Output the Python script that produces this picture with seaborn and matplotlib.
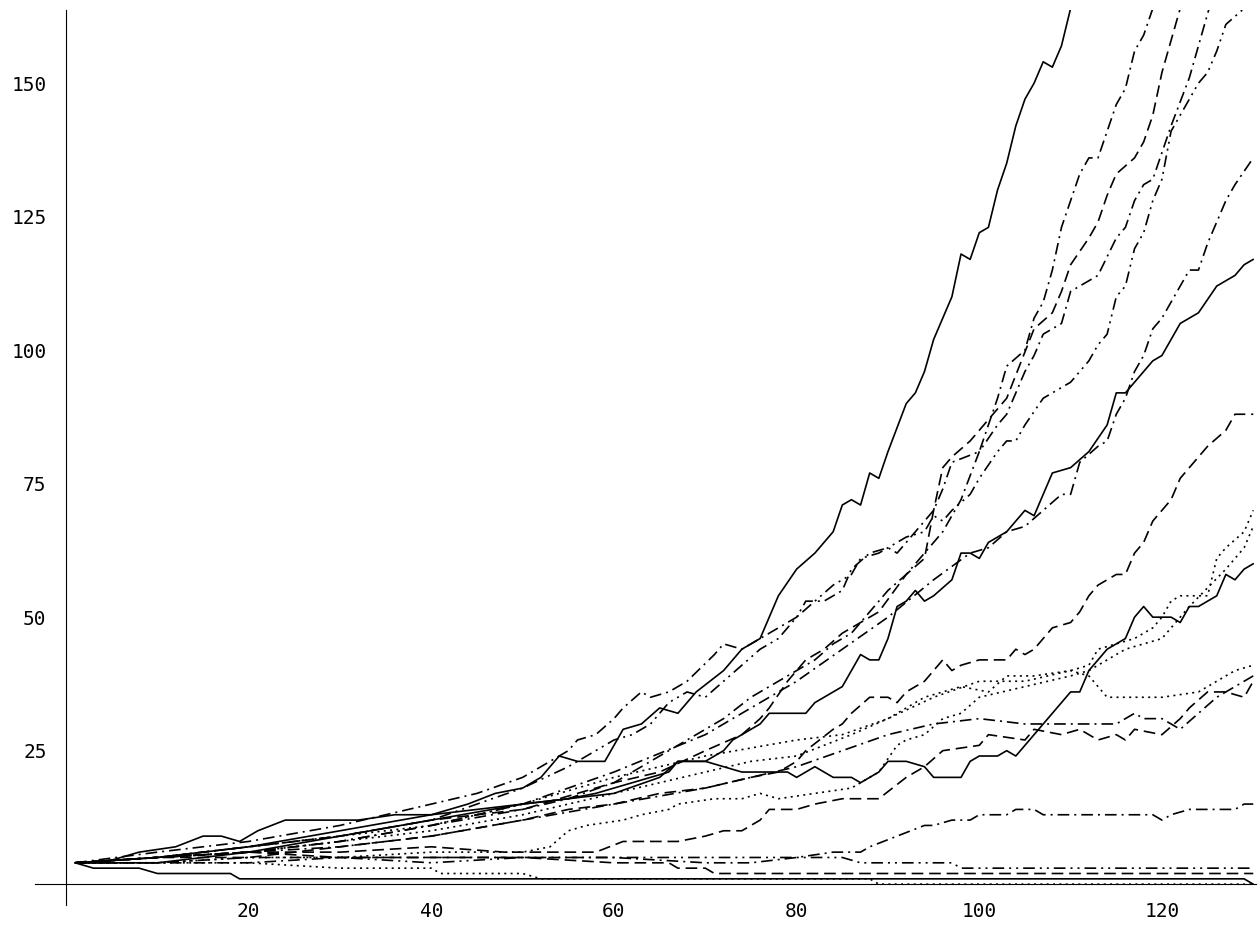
import numpy as np
import pandas as pd
import seaborn as sns
import matplotlib.pyplot as plt
from matplotlib.ticker import FixedLocator, MultipleLocator

# Walk values (x = step, y = value)
steep_x = [1, 4, 8, 12, 15, 17, 19, 21, 24, 32, 36, 40, 44, 47, 50, 52, 54, 56, 59, 60, 61, 63, 65, 67, 69, 72, 74, 76, 78, 80, 82, 84, 85, 86, 87, 88, 89, 90, 92, 93, 94, 95, 96, 97, 98, 99, 100, 101, 102, 103, 104, 105, 106, 107, 108, 109, 110, 112]
steep_y = [4, 4, 6, 7, 9, 9, 8, 10, 12, 12, 13, 13, 15, 17, 18, 20, 24, 23, 23, 26, 29, 30, 33, 32, 36, 40, 44, 46, 54, 59, 62, 66, 71, 72, 71, 77, 76, 81, 90, 92, 96, 102, 106, 110, 118, 117, 122, 123, 130, 135, 142, 147, 150, 154, 153, 157, 164, 178]

dd1_x = [1, 10, 20, 30, 40, 45, 50, 55, 56, 58, 60, 61, 63, 64, 66, 68, 71, 72, 74, 76, 78, 80, 81, 83, 85, 86, 88, 90, 91, 93, 95, 96, 97, 100, 102, 103, 105, 106, 107, 108, 109, 110, 111, 112, 113, 114, 115, 116, 117, 118, 119, 120]
dd1_y = [4, 6, 8, 11, 15, 17, 20, 25, 27, 28, 31, 33, 36, 35, 36, 38, 43, 45, 44, 46, 48, 50, 53, 53, 55, 59, 62, 63, 62, 66, 70, 74, 79, 81, 91, 97, 100, 106, 109, 115, 123, 128, 133, 136, 136, 141, 146, 149, 156, 159, 164, 170]

da1_x = [1, 10, 20, 30, 40, 50, 60, 65, 70, 74, 76, 77, 79, 81, 83, 85, 87, 89, 92, 94, 95, 96, 97, 99, 101, 103, 106, 108, 109, 110, 112, 113, 114, 115, 117, 118, 119, 120, 121, 122, 123]
da1_y = [4, 5, 7, 9, 12, 14, 19, 21, 25, 28, 31, 33, 38, 42, 44, 47, 49, 51, 58, 61, 70, 78, 80, 83, 87, 91, 104, 107, 111, 116, 121, 124, 129, 133, 136, 139, 144, 152, 158, 164, 170]

dd2_x = [1, 10, 20, 30, 40, 50, 55, 60, 65, 70, 72, 75, 78, 80, 82, 84, 86, 88, 90, 92, 94, 96, 98, 100, 102, 103, 105, 106, 107, 109, 110, 112, 113, 115, 116, 117, 118, 119, 120, 121, 123, 124, 125, 126]
dd2_y = [4, 5, 6, 8, 11, 14, 16, 19, 24, 29, 31, 35, 38, 40, 42, 45, 47, 51, 55, 58, 62, 66, 72, 81, 86, 88, 96, 99, 103, 105, 111, 113, 114, 121, 123, 128, 131, 132, 137, 142, 151, 157, 163, 169]

ddd1_x = [1, 10, 20, 30, 40, 45, 50, 55, 58, 60, 62, 64, 66, 68, 70, 72, 74, 76, 78, 80, 82, 84, 86, 87, 89, 90, 92, 94, 95, 96, 97, 99, 100, 102, 103, 104, 105, 107, 108, 110, 111, 112, 113, 114, 115, 116, 117, 118, 119, 120, 121, 122, 124, 125, 126, 127, 129, 130]
ddd1_y = [4, 5, 7, 9, 12, 15, 18, 22, 25, 27, 28, 30, 34, 36, 35, 38, 41, 44, 46, 50, 53, 56, 58, 61, 62, 63, 65, 66, 69, 68, 70, 73, 76, 81, 83, 83, 86, 91, 92, 94, 96, 98, 101, 103, 110, 112, 119, 122, 128, 132, 141, 144, 150, 152, 156, 161, 164, 167]

dd3_x = [1, 10, 20, 30, 40, 50, 60, 70, 75, 80, 85, 90, 95, 99, 101, 103, 105, 107, 109, 110, 111, 113, 114, 115, 116, 117, 118, 119, 120, 121, 122, 123, 124, 125, 126, 127, 128, 130]
dd3_y = [4, 5, 6, 8, 11, 15, 21, 28, 33, 38, 44, 50, 57, 62, 63, 66, 67, 70, 73, 73, 79, 82, 83, 88, 91, 96, 99, 104, 106, 109, 112, 115, 115, 120, 124, 128, 131, 136]

solid2_x = [1, 10, 20, 30, 40, 50, 55, 58, 60, 62, 66, 67, 70, 72, 73, 76, 77, 81, 82, 85, 87, 88, 89, 90, 91, 92, 93, 94, 95, 97, 98, 99, 100, 101, 103, 104, 105, 106, 107, 108, 110, 112, 114, 115, 116, 117, 119, 120, 121, 122, 124, 126, 127, 128, 129, 130]
solid2_y = [4, 5, 7, 10, 13, 15, 16, 17, 18, 19, 21, 23, 23, 25, 27, 30, 32, 32, 34, 37, 43, 42, 42, 46, 52, 53, 55, 53, 54, 57, 62, 62, 61, 64, 66, 68, 70, 69, 73, 77, 78, 81, 86, 92, 92, 94, 98, 99, 102, 105, 107, 112, 113, 114, 116, 117]

da2_x = [1, 10, 20, 30, 40, 50, 55, 60, 65, 70, 75, 78, 80, 81, 84, 85, 86, 88, 90, 91, 92, 93, 94, 95, 96, 97, 98, 100, 103, 104, 105, 106, 108, 110, 111, 112, 113, 115, 116, 117, 118, 119, 120, 121, 122, 123, 125, 127, 128, 130]
da2_y = [4, 5, 5, 7, 9, 12, 14, 15, 17, 18, 20, 21, 23, 25, 29, 30, 32, 35, 35, 34, 36, 37, 38, 40, 42, 40, 41, 42, 42, 44, 43, 44, 48, 49, 51, 54, 56, 58, 58, 62, 64, 68, 70, 72, 76, 78, 82, 85, 88, 88]

dot1_x = [1, 10, 20, 30, 40, 50, 60, 70, 80, 85, 90, 95, 100, 105, 110, 112, 113, 115, 117, 119, 120, 121, 122, 125, 126, 127, 129, 130]
dot1_y = [4, 5, 7, 9, 11, 15, 20, 24, 27, 28, 31, 35, 38, 38, 40, 41, 44, 45, 46, 48, 50, 53, 54, 54, 61, 63, 66, 70]

dot2_x = [1, 10, 20, 30, 40, 50, 53, 55, 57, 61, 63, 66, 67, 71, 74, 76, 78, 82, 86, 89, 91, 92, 94, 96, 98, 100, 105, 110, 112, 114, 116, 118, 120, 121, 123, 127, 129, 130]
dot2_y = [4, 4, 5, 5, 6, 6, 7, 10, 11, 12, 13, 14, 15, 16, 16, 17, 16, 17, 18, 21, 26, 27, 28, 31, 32, 35, 37, 39, 40, 42, 44, 45, 46, 48, 52, 59, 63, 67]

dot3_x = [1, 10, 20, 30, 40, 50, 60, 70, 75, 80, 86, 90, 94, 98, 101, 103, 106, 110, 112, 114, 120, 124, 126, 128, 130]
dot3_y = [4, 5, 6, 8, 10, 13, 17, 21, 23, 24, 28, 31, 35, 37, 36, 39, 39, 40, 39, 35, 35, 36, 38, 40, 41]

solid3_x = [1, 10, 20, 30, 40, 50, 55, 60, 65, 67, 70, 72, 74, 79, 80, 82, 84, 86, 87, 89, 90, 92, 94, 95, 98, 99, 100, 102, 103, 104, 107, 108, 110, 111, 112, 114, 116, 117, 118, 119, 121, 122, 123, 124, 126, 127, 128, 129, 130]
solid3_y = [4, 4, 6, 9, 12, 15, 16, 17, 20, 23, 23, 22, 21, 21, 20, 22, 20, 20, 19, 21, 23, 23, 22, 20, 20, 23, 24, 24, 25, 24, 30, 32, 36, 36, 40, 44, 46, 50, 52, 50, 50, 49, 52, 52, 54, 58, 57, 59, 60]

da3_x = [1, 10, 20, 30, 40, 48, 55, 58, 61, 67, 70, 72, 74, 76, 77, 80, 82, 85, 89, 92, 94, 96, 100, 101, 105, 106, 109, 111, 113, 115, 116, 117, 120, 122, 123, 125, 127, 129, 130]
da3_y = [4, 5, 6, 6, 7, 6, 6, 6, 8, 8, 9, 10, 10, 12, 14, 14, 15, 16, 16, 20, 22, 25, 26, 28, 27, 29, 28, 29, 27, 28, 27, 29, 28, 31, 33, 36, 36, 35, 38]

dd4_x = [1, 10, 20, 30, 40, 50, 60, 70, 75, 80, 85, 90, 95, 100, 105, 110, 115, 117, 118, 120, 122, 124, 126, 128, 130]
dd4_y = [4, 5, 6, 7, 9, 12, 15, 18, 20, 22, 25, 28, 30, 31, 30, 30, 30, 32, 31, 31, 29, 32, 35, 37, 39]

dd5_x = [1, 10, 20, 30, 40, 50, 60, 70, 75, 80, 84, 87, 88, 91, 94, 95, 97, 99, 100, 103, 104, 106, 107, 119, 120, 121, 123, 128, 129, 130]
dd5_y = [4, 4, 4, 5, 5, 5, 5, 4, 4, 5, 6, 6, 7, 9, 11, 11, 12, 12, 13, 13, 14, 14, 13, 13, 12, 13, 14, 14, 15, 15]

ddd2_x = [1, 10, 20, 30, 40, 50, 60, 70, 80, 85, 87, 97, 98, 130]
ddd2_y = [4, 4, 5, 5, 4, 5, 5, 5, 5, 5, 4, 4, 3, 3]

da4_x = [1, 10, 20, 30, 40, 50, 60, 66, 67, 70, 71, 130]
da4_y = [4, 5, 6, 5, 5, 5, 4, 4, 3, 3, 2, 2]

dot4_x = [1, 10, 20, 30, 40, 41, 50, 52, 88, 89, 130]
dot4_y = [4, 4, 4, 3, 3, 2, 2, 1, 1, 0, 0]

solid4_x = [1, 3, 8, 10, 18, 19, 129, 130]
solid4_y = [4, 3, 3, 2, 2, 1, 1, 0]

walks = [
    ('steep', 'solid', steep_x, steep_y),
    ('dd1', 'dashdot', dd1_x, dd1_y),
    ('da1', 'dashed', da1_x, da1_y),
    ('dd2', 'dashdot', dd2_x, dd2_y),
    ('ddd1', 'dashdotdot', ddd1_x, ddd1_y),
    ('dd3', 'dashdot', dd3_x, dd3_y),
    ('solid2', 'solid', solid2_x, solid2_y),
    ('da2', 'dashed', da2_x, da2_y),
    ('dot1', 'dotted', dot1_x, dot1_y),
    ('dot2', 'dotted', dot2_x, dot2_y),
    ('dot3', 'dotted', dot3_x, dot3_y),
    ('solid3', 'solid', solid3_x, solid3_y),
    ('da3', 'dashed', da3_x, da3_y),
    ('dd4', 'dashdot', dd4_x, dd4_y),
    ('dd5', 'dashdot', dd5_x, dd5_y),
    ('ddd2', 'dashdotdot', ddd2_x, ddd2_y),
    ('da4', 'dashed', da4_x, da4_y),
    ('dot4', 'dotted', dot4_x, dot4_y),
    ('solid4', 'solid', solid4_x, solid4_y),
]

dash_styles = {
    'solid': '',
    'dashed': (7, 3.5),
    'dashdot': (7, 3, 1.2, 3),
    'dotted': (1.2, 2.6),
    'dashdotdot': (7, 3, 1.2, 3, 1.2, 3),
}

frames = []
for name, kind, xs, ys in walks:
    frames.append(pd.DataFrame({'x': xs, 'y': ys, 'walk': name}))
df = pd.concat(frames, ignore_index=True)

sns.set_style('white')
plt.rcParams['font.family'] = ['DejaVu Sans Mono', 'DejaVu Sans']

fig = plt.figure(figsize=(12.58, 9.26), dpi=100)
ax = fig.add_axes([35 / 1258, 21 / 926, 1221 / 1258, 895 / 926])

sns.lineplot(data=df, x='x', y='y', hue='walk', style='walk',
             palette={n: 'black' for n, _, _, _ in walks},
             dashes={n: dash_styles[k] for n, k, _, _ in walks},
             estimator=None, sort=False, legend=False, linewidth=1.2, ax=ax)

ax.set_xlim(-3.4, 130.3)
ax.set_ylim(-3.9, 163.7)
ax.set_xlabel('')
ax.set_ylabel('')

for side in ['top', 'right']:
    ax.spines[side].set_visible(False)
ax.spines['left'].set_position(('data', 0))
ax.spines['bottom'].set_position(('data', 0))
for side in ['left', 'bottom']:
    ax.spines[side].set_linewidth(0.8)
    ax.spines[side].set_color('black')

ax.xaxis.set_major_locator(FixedLocator([20, 40, 60, 80, 100, 120]))
ax.xaxis.set_minor_locator(MultipleLocator(5))
ax.yaxis.set_major_locator(FixedLocator([25, 50, 75, 100, 125, 150]))
ax.yaxis.set_minor_locator(MultipleLocator(5))
ax.tick_params(which='major', direction='in', length=6.5, width=0.75, colors='black', labelsize=14)
ax.tick_params(which='minor', direction='in', length=4, width=0.75, colors='black')
ax.tick_params(axis='y', which='major', pad=14)
ax.tick_params(axis='x', which='major', pad=13)

fig.savefig('out.png', dpi=100, facecolor='white')
